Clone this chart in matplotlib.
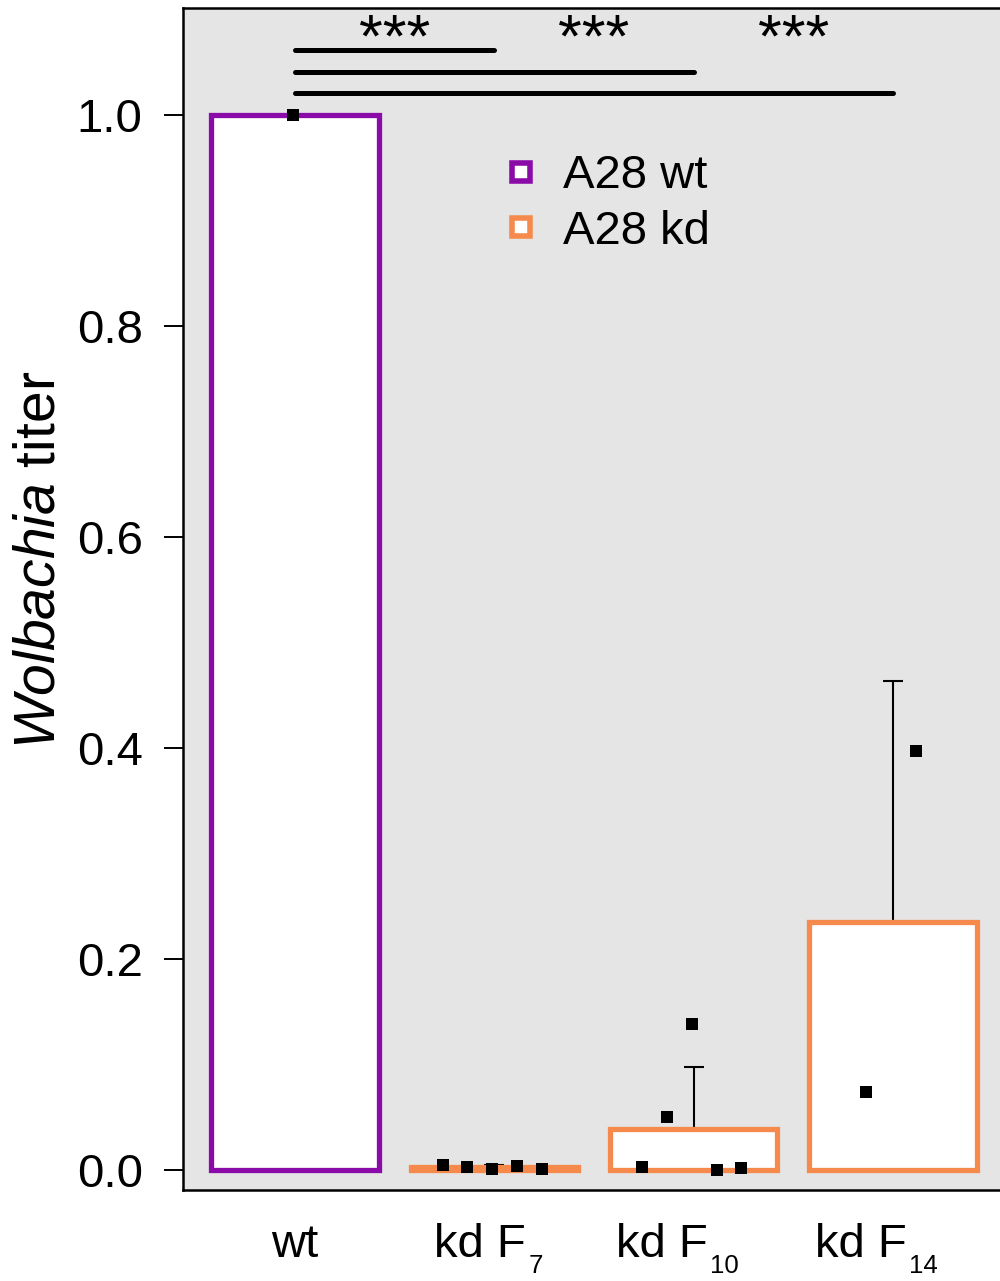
import numpy as np
import matplotlib
matplotlib.use("Agg")
import matplotlib.pyplot as plt
import matplotlib.transforms as mtransforms
from matplotlib.lines import Line2D

plt.rcParams['font.family'] = ['Liberation Sans', 'DejaVu Sans']
plt.rcParams['mathtext.fontset'] = 'custom'
plt.rcParams['mathtext.rm'] = 'Liberation Sans'
plt.rcParams['mathtext.it'] = 'Liberation Sans:italic'

# ---------------------------------------------------------------------
# Data
# ---------------------------------------------------------------------
group_names = ['wt', 'kd F', 'kd F', 'kd F']
group_subs = ['', '7', '10', '14']
group_kind = ['wt', 'kd', 'kd', 'kd']

# individual replicates (Wolbachia titer, relative to wt)
titer_wt = [1.0]
titer_f7 = [0.0047, 0.0028, 0.0009, 0.0038, 0.0009]
titer_f10 = [0.003, 0.050, 0.138, 0.0, 0.002]
titer_f14 = [0.074, 0.397]

# which of the 5 horizontal slots each replicate sits in
slots_wt = [2]
slots_f7 = [0, 1, 2, 3, 4]
slots_f10 = [0, 1, 2, 3, 4]
slots_f14 = [1, 3]

# significance brackets: (group a, group b, label)
sig_pairs = [(0, 1, '***'), (0, 2, '***'), (0, 3, '***')]

legend_labels = ['A28 wt', 'A28 kd']
colors = {'wt': '#8A0BA8', 'kd': '#F58A4C'}

all_titers = [titer_wt, titer_f7, titer_f10, titer_f14]
all_slots = [slots_wt, slots_f7, slots_f10, slots_f14]

# ---------------------------------------------------------------------
# Plot
# ---------------------------------------------------------------------
fig = plt.figure(figsize=(10, 12.81), dpi=100)
ax = fig.add_axes([0.183, 0.0710, 0.820, 0.9227])
ax.set_facecolor('#E5E5E5')

bar_width = 0.84
slot_offsets = (np.arange(5) - 2) * 0.125 - 0.01
cap_half = 0.05

for i, (vals, slots) in enumerate(zip(all_titers, all_slots)):
    vals = np.asarray(vals)
    mean = vals.mean()
    color = colors[group_kind[i]]

    ax.bar(i, mean, width=bar_width, facecolor='white', edgecolor=color,
           linewidth=3.8, zorder=2)

    if len(vals) > 1:
        sd = vals.std(ddof=1)
        ax.vlines(i, mean, mean + sd, color='black', linewidth=1.5, zorder=1.5)
        ax.hlines(mean + sd, i - cap_half, i + cap_half, color='black',
                  linewidth=1.5, zorder=1.5)

    xs = i + slot_offsets[np.asarray(slots)]
    ax.scatter(xs, vals, marker='s', s=72, color='black', linewidths=0,
               zorder=4)

# significance lines and stars
line_levels = [1.0616, 1.0408, 1.0209]
for (a, b, lab), yl in zip(sig_pairs, line_levels):
    ax.plot([a, b], [yl, yl], color='black', linewidth=3.6,
            solid_capstyle='round', zorder=3)
for a, b, lab in sig_pairs:
    ax.text((b - 1) + 0.5, 1.0555, lab, ha='center', va='baseline',
            fontsize=44, zorder=3)

ax.set_xlim(-0.562, 3.552)
ax.set_ylim(-0.019, 1.1014)

ax.set_yticks([0.0, 0.2, 0.4, 0.6, 0.8, 1.0])
ax.set_yticklabels(['0.0', '0.2', '0.4', '0.6', '0.8', '1.0'])
ax.tick_params(axis='y', length=14, width=1.4, pad=15, labelsize=34)
ax.set_xticks([])

for side in ['left', 'bottom', 'top', 'right']:
    ax.spines[side].set_linewidth(1.8)

# x labels with R-style (low, small) subscripts
blend = mtransforms.blended_transform_factory(ax.transData, ax.transAxes)
main_shift_px = [0, -14, -32, -32]   # main text centre relative to tick
for i, (name, sub) in enumerate(zip(group_names, group_subs)):
    off = mtransforms.offset_copy(blend, fig=fig, x=main_shift_px[i],
                                  y=0, units='dots')
    t = ax.text(i, -0.0567, name, transform=off, ha='center',
                va='baseline', fontsize=34, clip_on=False)
    if sub:
        ax.annotate(sub, xy=(1, 0), xycoords=t, xytext=(2, -6),
                    textcoords='offset pixels', ha='left', va='baseline',
                    fontsize=18.5, annotation_clip=False)

fig.text(0.040, 1 - 560 / 1281, r'$\mathit{Wolbachia}$ titer', rotation=90,
         ha='center', va='center', fontsize=41)

handles = [Line2D([0], [0], marker='s', linestyle='none', markersize=13,
                  markerfacecolor='white', markeredgecolor=colors[k],
                  markeredgewidth=4.0) for k in ['wt', 'kd']]
ax.legend(handles, legend_labels, loc='upper left',
          bbox_to_anchor=(0.3837, 0.8764), frameon=False, fontsize=34,
          handlelength=1.0, handletextpad=0.38, labelspacing=0.25,
          borderpad=0, borderaxespad=0)

fig.savefig('out.png', dpi=100)
